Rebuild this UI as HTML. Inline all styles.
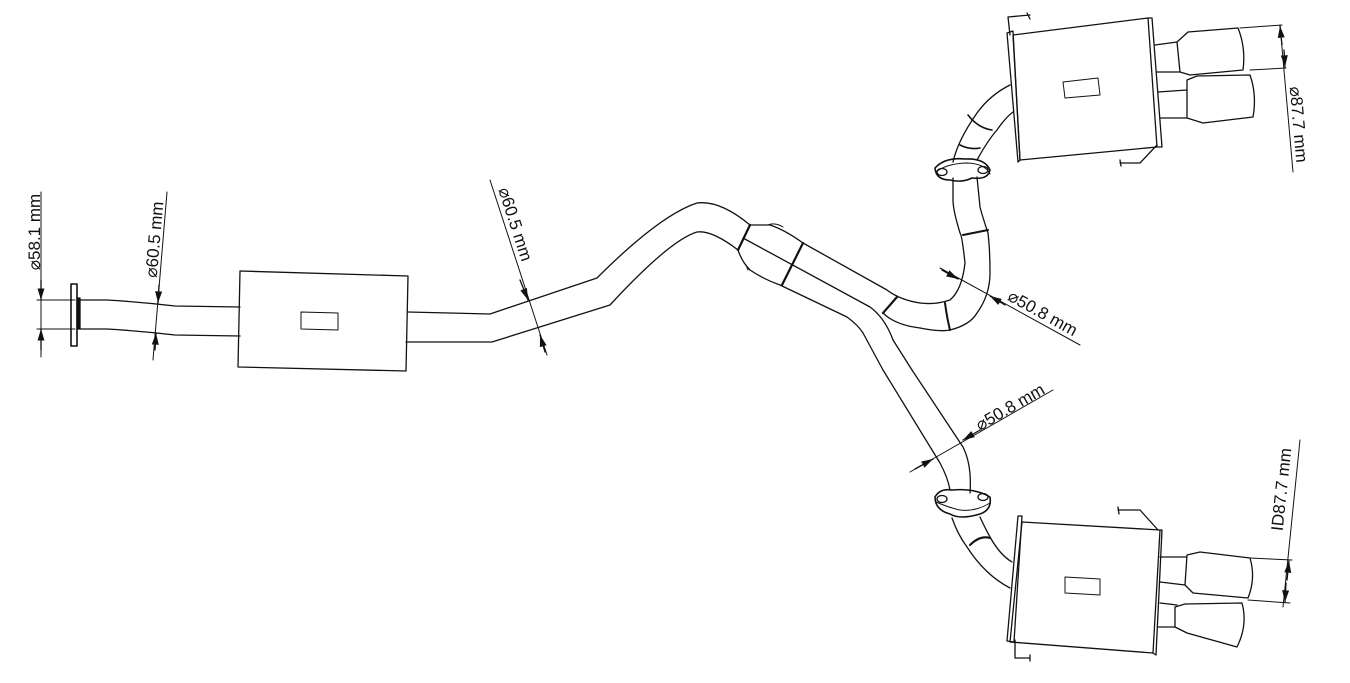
<!DOCTYPE html>
<html><head><meta charset="utf-8"><style>
html,body{margin:0;padding:0;background:#fff;}
svg{display:block;}
text{font-family:"Liberation Sans",sans-serif;font-size:17px;fill:#111;}
</style></head><body>
<svg width="1350" height="683" viewBox="0 0 1350 683" xmlns="http://www.w3.org/2000/svg">
<defs>
<marker id="a" viewBox="0 0 10 10" refX="10" refY="5" markerWidth="9" markerHeight="9" orient="auto-start-reverse"><path d="M0,2 L10,5 L0,8 z" fill="#111"/></marker>
</defs>
<g fill="none" stroke="#111" stroke-width="1.3" stroke-linejoin="round" stroke-linecap="round">
<line x1="41" y1="192" x2="41" y2="357" stroke-width="1"/>
<line x1="37" y1="300" x2="75" y2="300" stroke-width="1"/>
<line x1="37" y1="329" x2="75" y2="329" stroke-width="1"/>
<line x1="41" y1="280" x2="41" y2="300" marker-end="url(#a)"/>
<line x1="41" y1="350" x2="41" y2="329" marker-end="url(#a)"/>
<rect x="71" y="284" width="6" height="62" stroke-width="1.6"/>
<rect x="77" y="298" width="3" height="31" fill="#111"/>
<path d="M80,300 L107,300 Q140,302 175,306 L240,307"/>
<path d="M80,329 L107,329 Q140,331 175,335 L240,336"/>
<line x1="167" y1="192" x2="153" y2="360" stroke-width="1"/>
<line x1="159" y1="285" x2="158" y2="303" marker-end="url(#a)"/>
<line x1="155" y1="350" x2="156" y2="333" marker-end="url(#a)"/>
<path d="M240,271 L408,276 L406,371 L238,367 Z"/>
<path d="M301,312 L338,313 L338,330 L301,329 Z" stroke-width="1"/>
<path d="M408,312 L490,314 L597,278 Q660,215 697,203 Q720,200 750,225"/>
<path d="M406,342 L492,342 L610,305 Q670,240 697,232 Q712,230 738,250"/>
<line x1="490" y1="180" x2="547" y2="355" stroke-width="1"/>
<line x1="520" y1="280" x2="528" y2="300" marker-end="url(#a)"/>
<line x1="545" y1="352" x2="540" y2="335" marker-end="url(#a)"/>
<path d="M750,225 L770,225 Q785,230 803,243 L887,290 Q900,300 920,303"/>
<path d="M743,238 L870,307 Q885,318 893,340 L912,370"/>
<path d="M738,250 Q742,262 750,270 Q765,280 780,285 L847,317 Q858,325 863,333 L883,370"/>
<path d="M883,313 Q895,325 920,328"/>
<path d="M750,225 L738,250 M803,243 L782,285 M897,297 L883,313" stroke-width="2.2"/>
<path d="M768,225 Q775,222 783,227" stroke-width="1"/>
<path d="M746,265 L748,270" stroke-width="1"/>
<path d="M920,303 Q935,305 950,300 Q962,290 965,263 Q962,235 960,233 Q953,210 953,200 L953,178"/>
<path d="M920,328 Q940,332 950,330 Q970,325 977,313 Q990,295 990,273 Q990,250 988,233 Q982,215 980,207 L977,177"/>
<path d="M945,303 Q947,318 950,330 M963,235 L988,230" stroke-width="2"/>
<path d="M935,168 Q945,157 965,159 Q985,158 990,170 Q988,180 972,178 Q962,183 950,180 Q936,180 935,168 Z" stroke-width="1.6"/>
<path d="M936,172 Q946,164 965,163 Q985,163 990,174" stroke-width="1"/>
<ellipse cx="942" cy="172" rx="5" ry="3.5"/><ellipse cx="983" cy="170" rx="5" ry="3.5"/>
<path d="M953,162 Q958,140 977,113 Q990,95 1010,85"/>
<path d="M977,160 Q988,140 997,130 Q1005,118 1013,112"/>
<path d="M968,115 Q978,128 992,130 M960,145 Q970,150 980,148" stroke-width="1.6"/>
<path d="M1013,35 L1148,18 L1157,147 L1020,160 Z"/>
<path d="M1007,33 L1013,31 L1020,160 L1018,162 Z"/>
<path d="M1148,18 L1152,18 L1162,147 L1157,147"/>
<path d="M1063,82 L1098,78 L1100,95 L1065,98 Z" stroke-width="1"/>
<path d="M1008,17 L1010,35 M1008,17 L1030,15 M1027,13 L1030,19"/>
<path d="M1120,163 L1140,163 L1157,145 M1120,160 L1121,166"/>
<path d="M1155,45 L1177,42 M1157,72 L1180,72"/>
<path d="M1177,42 L1188,32 L1238,28 Q1246,48 1243,70 L1190,75 L1180,72 Z"/>
<path d="M1158,92 L1187,90 M1160,118 L1187,118"/>
<path d="M1187,80 L1197,76 L1250,75 Q1257,95 1253,117 L1203,123 L1187,118 Z"/>
<line x1="1240" y1="28" x2="1282" y2="25" stroke-width="1"/>
<line x1="1250" y1="70" x2="1286" y2="68" stroke-width="1"/>
<line x1="1280" y1="25" x2="1293" y2="172" stroke-width="1"/>
<line x1="1282" y1="45" x2="1280" y2="26" marker-end="url(#a)"/>
<line x1="1284" y1="50" x2="1285" y2="67" marker-end="url(#a)"/>
<line x1="940" y1="268" x2="1080" y2="345" stroke-width="1"/>
<line x1="942" y1="270" x2="958" y2="279" marker-end="url(#a)"/>
<line x1="1005" y1="305" x2="990" y2="296" marker-end="url(#a)"/>
<path d="M883,370 L940,463 Q948,478 950,490"/>
<path d="M912,370 L963,447 Q972,465 970,493"/>
<path d="M935,497 Q940,488 952,490 Q975,488 990,497 Q992,510 980,514 Q960,520 950,514 Q935,510 935,497 Z" stroke-width="1.6"/>
<path d="M936,502 Q950,508 960,510 Q975,512 990,503" stroke-width="1"/>
<ellipse cx="942" cy="499" rx="5" ry="3.5"/><ellipse cx="983" cy="497" rx="5" ry="3.5"/>
<path d="M952,518 Q958,535 967,547 Q985,575 1010,588"/>
<path d="M980,517 Q985,528 990,537 Q1000,555 1012,562"/>
<path d="M970,545 Q980,535 990,538" stroke-width="2"/>
<path d="M1022,522 L1160,530 L1153,653 L1010,642 Z"/>
<path d="M1018,516 L1022,516 L1014,642 L1007,641 Z"/>
<path d="M1160,530 L1162,530 L1156,655 L1153,653"/>
<path d="M1065,577 L1100,579 L1100,595 L1065,593 Z" stroke-width="1"/>
<path d="M1118,510 L1140,510 L1158,530 M1118,507 L1119,514"/>
<path d="M1015,640 L1015,658 L1030,658 M1030,655 L1030,661"/>
<path d="M1160,557 L1187,557 M1160,582 L1185,585"/>
<path d="M1187,555 L1200,552 L1250,558 Q1256,578 1248,598 L1193,593 L1185,585 Z"/>
<path d="M1160,603 L1177,605 M1158,627 L1175,627"/>
<path d="M1175,607 L1185,604 L1242,603 Q1248,625 1237,647 L1187,633 L1175,627 Z"/>
<line x1="1250" y1="558" x2="1292" y2="560" stroke-width="1"/>
<line x1="1248" y1="600" x2="1290" y2="603" stroke-width="1"/>
<line x1="1300" y1="440" x2="1283" y2="607" stroke-width="1"/>
<line x1="1287" y1="580" x2="1289" y2="561" marker-end="url(#a)"/>
<line x1="1286" y1="583" x2="1285" y2="602" marker-end="url(#a)"/>
<line x1="910" y1="472" x2="1053" y2="390" stroke-width="1"/>
<line x1="915" y1="469" x2="933" y2="459" marker-end="url(#a)"/>
<line x1="980" y1="430" x2="963" y2="440" marker-end="url(#a)"/>
</g>
<text transform="translate(40,232) rotate(-90)" text-anchor="middle">⌀58.1 mm</text>
<text transform="translate(160,240) rotate(-85)" text-anchor="middle">⌀60.5 mm</text>
<text transform="translate(510,226) rotate(72)" text-anchor="middle">⌀60.5 mm</text>
<text transform="translate(1293,125) rotate(85)" text-anchor="middle">⌀87.7 mm</text>
<text transform="translate(1040,318) rotate(29)" text-anchor="middle">⌀50.8 mm</text>
<text transform="translate(1013,412) rotate(-30)" text-anchor="middle">⌀50.8 mm</text>
<text transform="translate(1287,490) rotate(-84)" text-anchor="middle">ID87.7 mm</text>
</svg>
</body></html>
